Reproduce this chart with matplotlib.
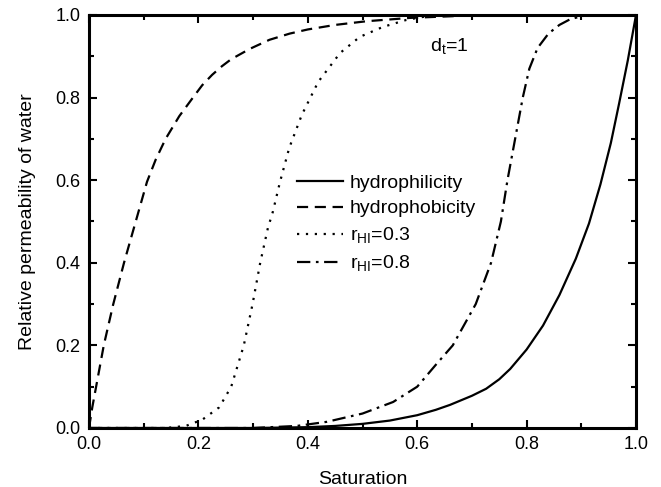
import matplotlib
matplotlib.use("Agg")
import matplotlib.pyplot as plt
from matplotlib.ticker import MultipleLocator

plt.rcParams['font.family'] = ['Liberation Sans', 'DejaVu Sans']
plt.rcParams['mathtext.fontset'] = 'custom'
plt.rcParams['mathtext.rm'] = 'Liberation Sans'

# hydrophilicity (solid)
s_phil = [0.0, 0.3, 0.4, 0.45, 0.5, 0.55, 0.6, 0.634, 0.66, 0.7, 0.726, 0.75, 0.77, 0.80, 0.83, 0.86,
          0.89, 0.914, 0.935, 0.954, 0.969, 0.985, 1.0]
k_phil = [0.0, 0.0, 0.002, 0.005, 0.01, 0.018, 0.031, 0.044, 0.056, 0.078, 0.095, 0.118, 0.143, 0.19, 0.248, 0.322,
          0.41, 0.495, 0.59, 0.69, 0.785, 0.89, 1.0]

# hydrophobicity (dashed)
s_phob = [0.0, 0.006, 0.013, 0.027, 0.044, 0.064, 0.082, 0.094, 0.106, 0.122, 0.14, 0.165, 0.19, 0.207, 0.225,
          0.243, 0.26, 0.294, 0.33, 0.367, 0.4, 0.45, 0.508, 0.587, 0.7, 1.0]
k_phob = [0.0, 0.05, 0.1, 0.2, 0.298, 0.4, 0.484, 0.54, 0.596, 0.65, 0.7, 0.755, 0.8, 0.83, 0.855,
          0.876, 0.893, 0.918, 0.94, 0.955, 0.965, 0.976, 0.985, 0.993, 0.999, 1.0]

# r_HI = 0.3 (dotted)
s_r03 = [0.0, 0.14, 0.177, 0.207, 0.238, 0.26, 0.283, 0.299, 0.313, 0.327, 0.336, 0.349, 0.366, 0.389, 0.419, 0.459, 0.495, 0.537, 0.58, 0.63, 1.0]
k_r03 = [0.0, 0.0, 0.005, 0.02, 0.05, 0.1, 0.2, 0.3, 0.4, 0.484, 0.523, 0.595, 0.678, 0.758, 0.838, 0.908, 0.947, 0.971, 0.988, 1.0, 1.0]

# r_HI = 0.8 (dash-dot)
s_r08 = [0.0, 0.3, 0.38, 0.435, 0.5, 0.556, 0.6, 0.634, 0.665, 0.707, 0.735, 0.753, 0.765, 0.779, 0.793,
         0.805, 0.82, 0.84, 0.86, 0.88, 0.91, 1.0]
k_r08 = [0.0, 0.0, 0.005, 0.015, 0.035, 0.063, 0.1, 0.153, 0.2, 0.3, 0.4, 0.5, 0.6, 0.7, 0.8,
         0.87, 0.92, 0.955, 0.976, 0.99, 1.0, 1.0]

fig = plt.figure(figsize=(6.61, 4.87), dpi=100)
ax = fig.add_axes([89 / 661, 1 - 428 / 487, 547 / 661, 413 / 487])

ax.plot(s_phil, k_phil, color='black', lw=1.6, ls='-', label='hydrophilicity')
ax.plot(s_phob, k_phob, color='black', lw=1.6, ls=(0, (5, 3)), label='hydrophobicity')
ax.plot(s_r03, k_r03, color='black', lw=1.6, ls=(0, (1, 3)), label=r'r$_{\mathrm{HI}}$=0.3')
ax.plot(s_r08, k_r08, color='black', lw=1.6, ls=(0, (6, 2.5, 1.2, 2.5)), label=r'r$_{\mathrm{HI}}$=0.8')

ax.set_xlim(0, 1)
ax.set_ylim(0, 1)
ax.xaxis.set_major_locator(MultipleLocator(0.2))
ax.xaxis.set_minor_locator(MultipleLocator(0.1))
ax.yaxis.set_major_locator(MultipleLocator(0.2))
ax.yaxis.set_minor_locator(MultipleLocator(0.1))
ax.tick_params(which='both', direction='in', top=True, right=True, labelsize=13, width=1.5, pad=6)
ax.tick_params(which='major', length=6)
ax.tick_params(which='minor', length=3.5)
for sp in ax.spines.values():
    sp.set_linewidth(2.2)

ax.set_xlabel('Saturation', fontsize=14, labelpad=13)
ax.set_ylabel('Relative permeability of water', fontsize=14, labelpad=14)

ax.text(0.623, 0.91, r'd$_{\mathrm{t}}$=1', fontsize=14)

ax.legend(loc='upper left', bbox_to_anchor=(0.38, 0.615), frameon=False, fontsize=14,
          borderpad=0, borderaxespad=0, handlelength=2.35, handletextpad=0.36,
          labelspacing=0.42)

fig.savefig('out.png', dpi=100)
